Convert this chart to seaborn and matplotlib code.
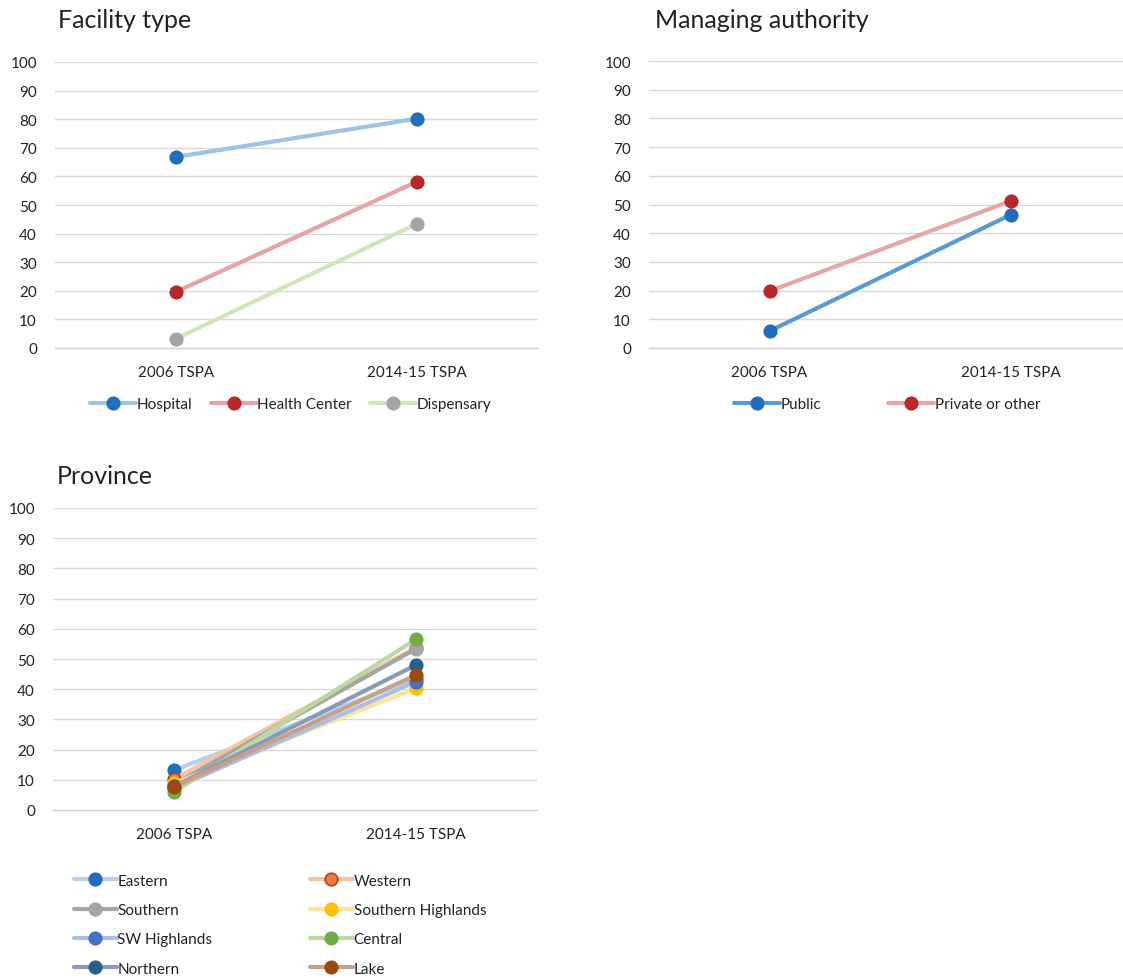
import pandas as pd
import matplotlib.pyplot as plt
import seaborn as sns

# ---------------------------------------------
# data
# ---------------------------------------------
surveys = ["2006 TSPA", "2014-15 TSPA"]

facility_names = ["Hospital", "Health Center", "Dispensary"]
hospital = [66.8, 80.2]
health_center = [19.6, 58.2]
dispensary = [3.2, 43.5]

authority_names = ["Public", "Private or other"]
public = [5.9, 46.4]
private_other = [19.8, 51.2]

province_names = ["Eastern", "Western", "Southern", "Southern Highlands",
                  "SW Highlands", "Central", "Northern", "Lake"]
eastern = [13.2, 43.5]
western = [10.2, 53.8]
southern = [8.5, 53.4]
southern_highlands = [8.8, 40.3]
sw_highlands = [7.2, 42.5]
central = [6.0, 56.5]
northern = [7.8, 48.0]
lake = [7.6, 44.7]

# (line colour, marker face, marker edge, line width)
styles = {
    "Hospital": ("#9dc3e6", "#1f6fbf", "#1f6fbf", 3.0),
    "Health Center": ("#e6a3a3", "#b8282a", "#b8282a", 3.0),
    "Dispensary": ("#cfe6b8", "#a5a5a5", "#a5a5a5", 3.0),
    "Public": ("#5b9bd5", "#1f6fbf", "#1f6fbf", 3.0),
    "Private or other": ("#e8a6a6", "#b8282a", "#b8282a", 3.0),
    "Eastern": ("#b4d0ec", "#1f6fbf", "#1f6fbf", 3.0),
    "Western": ("#f6c2a0", "#ed7d31", "#c0392b", 3.0),
    "Southern": ("#a5a5a5", "#a5a5a5", "#a5a5a5", 3.0),
    "Southern Highlands": ("#ffe29a", "#ffc000", "#ffc000", 3.0),
    "SW Highlands": ("#a9bfe6", "#4472c4", "#4472c4", 3.0),
    "Central": ("#b9d9a2", "#70ad47", "#70ad47", 3.0),
    "Northern": ("#8a9bb8", "#255e91", "#255e91", 3.0),
    "Lake": ("#c7a088", "#9e480e", "#9e480e", 3.0),
}

sns.set_style("white")
plt.rcParams["font.family"] = ["Lato", "DejaVu Sans"]
plt.rcParams["text.color"] = "#222222"

W, H = 1123, 979
FS = 11
fig = plt.figure(figsize=(W / 100, H / 100), dpi=100)


def px_axes(left, top, right, bottom):
    return fig.add_axes([left / W, 1 - bottom / H, (right - left) / W, (bottom - top) / H])


def draw_panel(ax, series):
    for name, vals in series:
        lc, mf, me, lw = styles[name]
        df = pd.DataFrame({"survey": surveys, "value": vals})
        sns.lineplot(data=df, x="survey", y="value", ax=ax, color=lc, lw=lw,
                     marker="o", markersize=9, markerfacecolor=mf,
                     markeredgecolor=me, markeredgewidth=1.2, label=name,
                     clip_on=False, zorder=3)
    ax.set_xlim(-0.5, 1.5)
    ax.set_ylim(0, 100)
    ax.set_yticks(range(0, 101, 10))
    ax.grid(axis="y", color="#d9d9d9", lw=1)
    ax.grid(axis="x", visible=False)
    sns.despine(ax=ax, left=True, top=True, right=True, bottom=False)
    ax.spines["bottom"].set_color("#d0d0d0")
    ax.spines["bottom"].set_linewidth(1)
    ax.set_xlabel("")
    ax.set_ylabel("")
    ax.tick_params(axis="y", length=0, pad=13, labelsize=FS, labelcolor="#222222")
    ax.tick_params(axis="x", length=0, pad=12, labelsize=FS, labelcolor="#222222")


# Facility type
ax1 = px_axes(55, 63, 538, 349)
draw_panel(ax1, [("Hospital", hospital), ("Health Center", health_center),
                 ("Dispensary", dispensary)])
ax1.legend(loc="center", bbox_to_anchor=(291 / W, 1 - 405 / H), bbox_transform=fig.transFigure,
           ncol=3, frameon=False, fontsize=FS, handlelength=3, handletextpad=0.05,
           columnspacing=1.2)
fig.text(58 / W, 1 - 20 / H, "Facility type", fontsize=18, va="center", ha="left")

# Managing authority
ax2 = px_axes(649, 62, 1131, 349)
draw_panel(ax2, [("Public", public), ("Private or other", private_other)])
ax2.legend(loc="center", bbox_to_anchor=(887 / W, 1 - 405 / H), bbox_transform=fig.transFigure,
           ncol=2, frameon=False, fontsize=FS, handlelength=3, handletextpad=0.05,
           columnspacing=4.4)
fig.text(655 / W, 1 - 20 / H, "Managing authority", fontsize=18, va="center", ha="left")

# Province
ax3 = px_axes(53, 509, 537, 811)
draw_panel(ax3, [("Eastern", eastern), ("Western", western), ("Southern", southern),
                 ("Southern Highlands", southern_highlands), ("SW Highlands", sw_highlands),
                 ("Central", central), ("Northern", northern), ("Lake", lake)])
# legend reads row by row: reorder for matplotlib's column filling
handles, labels = ax3.get_legend_handles_labels()
order = [0, 2, 4, 6, 1, 3, 5, 7]
ax3.legend([handles[i] for i in order], [labels[i] for i in order],
           loc="upper left", bbox_to_anchor=(60 / W, 1 - 861 / H), bbox_transform=fig.transFigure,
           ncol=2, frameon=False, fontsize=FS, handlelength=2.8, handletextpad=0.05,
           columnspacing=6.4, labelspacing=1.0)
fig.text(57 / W, 1 - 476 / H, "Province", fontsize=18, va="center", ha="left")

fig.savefig("out.png", dpi=100, facecolor="white")
